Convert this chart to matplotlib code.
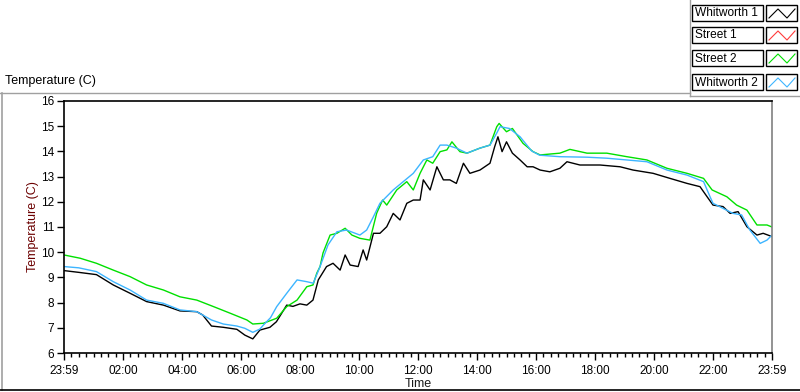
import matplotlib
matplotlib.use("Agg")
import matplotlib.pyplot as plt
from matplotlib.lines import Line2D
from matplotlib.patches import Rectangle

# ---------------- data (hours after 23:59, temperature in C) ----------------
hours_w1 = [0.0, 0.5, 1.1, 1.67, 2.24, 2.8, 3.37, 3.93, 4.5, 4.7, 5.0, 5.4, 5.86, 6.13, 6.4,
            6.64, 6.98, 7.2, 7.55, 7.76, 8.0, 8.23, 8.44, 8.62, 8.9, 9.12, 9.36, 9.53, 9.7,
            9.97, 10.14, 10.26, 10.49, 10.71, 10.94, 11.16, 11.39, 11.62, 11.84, 12.07, 12.18,
            12.41, 12.64, 12.86, 13.08, 13.3, 13.54, 13.76, 14.1, 14.44, 14.6, 14.71, 14.85,
            15.0, 15.2, 15.46, 15.7, 15.9, 16.14, 16.47, 16.81, 17.05, 17.49, 18.17, 18.85,
            19.29, 19.97, 20.54, 21.12, 21.56, 21.8, 22.0, 22.34, 22.58, 22.85, 23.15, 23.49,
            23.7, 24.0]
temp_w1 = [9.27, 9.2, 9.11, 8.70, 8.37, 8.04, 7.90, 7.67, 7.64, 7.51, 7.07, 7.02, 6.94, 6.71, 6.56,
           6.91, 7.02, 7.24, 7.90, 7.85, 7.95, 7.90, 8.1, 8.9, 9.43, 9.56, 9.29, 9.89, 9.49,
           9.43, 10.09, 9.69, 10.75, 10.75, 11.01, 11.54, 11.28, 11.94, 12.07, 12.07, 12.87,
           12.47, 13.39, 12.87, 12.87, 12.73, 13.53, 13.13, 13.26, 13.53, 14.19, 14.58, 13.99,
           14.38, 13.93, 13.66, 13.39, 13.39, 13.26, 13.19, 13.33, 13.59, 13.46, 13.46, 13.39,
           13.26, 13.13, 12.93, 12.73, 12.60, 12.20, 11.87, 11.81, 11.54, 11.61, 11.01, 10.68,
           10.75, 10.62]

# Street 1 is listed in the legend but no trace of it is visible in the plot
hours_s1 = []
temp_s1 = []

hours_s2 = [0.0, 0.55, 1.1, 1.67, 2.24, 2.8, 3.37, 3.93, 4.5, 5.07, 5.63, 6.2, 6.4, 6.76, 7.21,
            7.55, 7.9, 8.23, 8.44, 8.57, 8.68, 8.78, 9.02, 9.25, 9.53, 9.76, 10.03, 10.37, 10.6,
            10.8, 10.94, 11.28, 11.62, 11.84, 12.07, 12.3, 12.5, 12.75, 12.98, 13.15, 13.42,
            13.66, 14.1, 14.44, 14.67, 14.75, 15.0, 15.2, 15.56, 15.9, 16.14, 16.81, 17.15,
            17.73, 18.4, 19.08, 19.76, 20.44, 21.12, 21.68, 21.97, 22.47, 22.8, 23.15, 23.49,
            23.83, 24.0]
temp_s2 = [9.89, 9.76, 9.56, 9.29, 9.03, 8.70, 8.5, 8.23, 8.1, 7.84, 7.58, 7.31, 7.15, 7.18, 7.38,
           7.84, 8.1, 8.63, 8.70, 9.17, 9.43, 9.97, 10.68, 10.75, 10.95, 10.68, 10.55, 10.48, 11.55,
           12.07, 11.87, 12.47, 12.80, 12.47, 13.13, 13.66, 13.53, 13.99, 14.06, 14.38, 13.99,
           13.93, 14.13, 14.25, 14.98, 15.11, 14.78, 14.91, 14.32, 13.99, 13.86, 13.93, 14.08,
           13.93, 13.93, 13.79, 13.66, 13.33, 13.13, 12.93, 12.47, 12.20, 11.87, 11.67, 11.08,
           11.08, 11.0]

hours_w2 = [0.0, 0.5, 1.1, 1.67, 2.24, 2.8, 3.37, 3.93, 4.5, 5.0, 5.4, 5.86, 6.13, 6.4, 6.64,
            6.76, 7.0, 7.21, 7.55, 7.9, 8.23, 8.45, 8.68, 8.95, 9.25, 9.58, 10.03, 10.26, 10.49,
            10.71, 11.16, 11.5, 11.84, 12.18, 12.5, 12.75, 12.98, 13.3, 13.66, 14.1, 14.44,
            14.67, 14.78, 15.1, 15.46, 15.85, 16.12, 16.8, 17.73, 18.4, 19.08, 19.76, 20.44,
            21.12, 21.68, 21.9, 22.0, 22.34, 22.68, 22.97, 23.25, 23.6, 23.83, 24.0]
temp_w2 = [9.43, 9.38, 9.23, 8.83, 8.5, 8.1, 7.97, 7.71, 7.64, 7.31, 7.15, 7.07, 6.98, 6.82, 6.95,
           7.11, 7.4, 7.84, 8.37, 8.9, 8.83, 8.77, 9.43, 10.29, 10.81, 10.88, 10.68, 10.88, 11.41,
           11.94, 12.47, 12.80, 13.13, 13.66, 13.79, 14.25, 14.25, 14.13, 13.93, 14.13, 14.25,
           14.73, 14.98, 14.91, 14.58, 14.02, 13.85, 13.79, 13.77, 13.73, 13.66, 13.59, 13.26,
           13.06, 12.80, 12.20, 11.94, 11.74, 11.54, 11.48, 10.88, 10.35, 10.48, 10.68]

series_names = ["Whitworth 1", "Street 1", "Street 2", "Whitworth 2"]
series_colors = ["#000000", "#ff3b3b", "#00e000", "#3db5ff"]

x_ticks = [0, 2, 4, 6, 8, 10, 12, 14, 16, 18, 20, 22, 24]
x_tick_labels = ["23:59", "02:00", "04:00", "06:00", "08:00", "10:00", "12:00",
                 "14:00", "16:00", "18:00", "20:00", "22:00", "23:59"]
y_ticks = [6, 7, 8, 9, 10, 11, 12, 13, 14, 15, 16]

# ---------------- layout ----------------
W, H = 800, 392
plt.rcParams['font.family'] = ['Liberation Sans', 'DejaVu Sans']
fig = plt.figure(figsize=(W / 100, H / 100), dpi=100)
fig.patch.set_facecolor("white")


def fx(px):
    return px / W


def fy(py):
    return 1 - py / H


ax = fig.add_axes([fx(64), fy(353), fx(772) - fx(64), fy(101) - fy(353)])

data = [(hours_w1, temp_w1), (hours_s1, temp_s1), (hours_s2, temp_s2), (hours_w2, temp_w2)]
for (hx, ty), name, col in zip(data, series_names, series_colors):
    ax.plot(hx, ty, color=col, lw=1.0, label=name)

ax.set_xlim(0, 24)
ax.set_ylim(6, 16)
ax.set_xticks(x_ticks)
ax.set_xticklabels(x_tick_labels)
ax.set_xticks([i * 0.25 for i in range(97)], minor=True)
ax.set_yticks(y_ticks)
ax.tick_params(axis='x', which='major', length=5, width=1, direction='out', pad=4,
               labelsize=8.5, colors='black')
ax.tick_params(axis='x', which='minor', length=3, width=1, direction='out')
ax.tick_params(axis='y', which='major', length=5, width=1, direction='out', pad=2,
               labelsize=8.5)
for side in ['left', 'top', 'bottom']:
    ax.spines[side].set_color('black')
    ax.spines[side].set_linewidth(1.2)
ax.spines['right'].set_color('#808080')
ax.spines['right'].set_linewidth(1.2)

fig.text(fx(33), fy(227), "Temperature (C)", rotation=90, ha='center', va='center',
         fontsize=9, color='#6b0000')
fig.text(fx(418), fy(384), "Time", ha='center', va='center', fontsize=9, color='#1a1a1a')
fig.text(fx(5), fy(81), "Temperature (C)", ha='left', va='center', fontsize=9, color='black')

# panel frame lines
gray = '#a0a0a0'
fig.add_artist(Line2D([fx(0), fx(690)], [fy(92.5), fy(92.5)], transform=fig.transFigure,
                      color=gray, lw=1))
fig.add_artist(Line2D([fx(1.5), fx(1.5)], [fy(92.5), fy(390)], transform=fig.transFigure,
                      color=gray, lw=1.2))
fig.add_artist(Line2D([fx(0), fx(800)], [fy(389.5), fy(389.5)], transform=fig.transFigure,
                      color='black', lw=1.2))
fig.add_artist(Line2D([fx(689.5), fx(689.5)], [fy(0), fy(96)], transform=fig.transFigure,
                      color=gray, lw=1))
fig.add_artist(Line2D([fx(689.5), fx(799)], [fy(95.5), fy(95.5)], transform=fig.transFigure,
                      color=gray, lw=1))

# legend boxes
row_tops = [5, 27, 50, 74]
row_h = 16
for top, name, col in zip(row_tops, series_names, series_colors):
    fig.add_artist(Rectangle((fx(692), fy(top + row_h)), fx(763) - fx(692), row_h / H,
                             transform=fig.transFigure, facecolor='white',
                             edgecolor='black', lw=1))
    fig.add_artist(Rectangle((fx(766), fy(top + row_h)), fx(797) - fx(766), row_h / H,
                             transform=fig.transFigure, facecolor='white',
                             edgecolor='black', lw=1))
    fig.text(fx(695), fy(top + row_h / 2 + 0.5), name, ha='left', va='center',
             fontsize=8.6, color='black')
    zx = [fx(769), fx(778), fx(787), fx(795)]
    zy = [fy(top + 13), fy(top + 4), fy(top + 13), fy(top + 4)]
    fig.add_artist(Line2D(zx, zy, transform=fig.transFigure, color=col, lw=0.8))

fig.savefig("out.png", dpi=100, facecolor='white')
